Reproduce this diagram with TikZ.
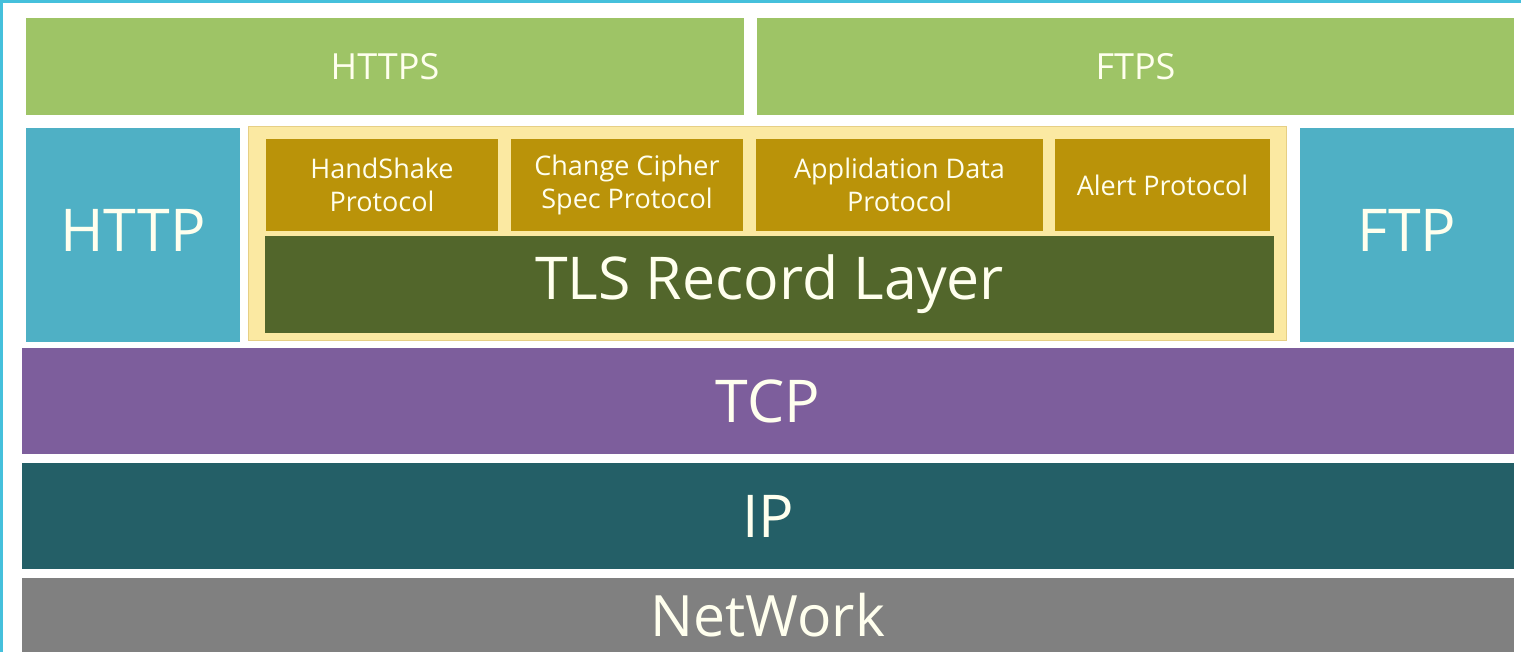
\documentclass[tikz,border=0pt]{standalone}
\usepackage{fontspec}
\setmainfont{Open Sans}
\definecolor{cgreen}{HTML}{9EC466}
\definecolor{ccyan}{HTML}{4FB0C5}
\definecolor{cpale}{HTML}{FBE9A2}
\definecolor{cpaleedge}{HTML}{E6CF85}
\definecolor{cgold}{HTML}{BA9309}
\definecolor{colive}{HTML}{52662B}
\definecolor{cpurple}{HTML}{7D5E9C}
\definecolor{cteal}{HTML}{245F67}
\definecolor{cgray}{HTML}{808080}
\definecolor{ctext}{HTML}{FFFFEE}
\definecolor{cframe}{HTML}{45C0DC}
\begin{document}
\begin{tikzpicture}[x=1pt,y=-1pt,
  blk/.style={inner sep=0pt,outer sep=0pt,draw=none,text=ctext,align=center},
  small/.style={blk,fill=cgold,font=\fontsize{27}{33}\selectfont},
  mid/.style={blk,font=\fontsize{36}{40}\selectfont},
  big/.style={blk,font=\fontsize{59}{64}\selectfont}]
\clip (0,0) rectangle (1521,652);
\fill[white] (0,0) rectangle (1521,652);
\draw[cframe,line width=3pt] (1.5,652) -- (1.5,1.5) -- (1521,1.5);
\node[mid,fill=cgreen,minimum width=718pt,minimum height=97pt] (https) at (385,66.5) {HTTPS};
\node[mid,fill=cgreen,minimum width=757pt,minimum height=97pt] (ftps) at (1135.5,66.5) {FTPS};
\node[big,fill=ccyan,minimum width=214pt,minimum height=214pt] (http) at (133,235) {};
\node[big,anchor=base] (httplabel) at (133,252) {HTTP};
\node[blk,fill=cpale,draw=cpaleedge,line width=1pt,minimum width=1038pt,minimum height=214pt] (tls) at (767,234) {};
\node[small,minimum width=232pt,minimum height=92pt] (hs) at (382,185) {HandShake\\Protocol};
\node[small,minimum width=232pt,minimum height=92pt] (ccs) at (627,185) {Change Cipher\\Spec Protocol};
\node[small,minimum width=287pt,minimum height=92pt] (app) at (899.5,185) {Applidation Data\\Protocol};
\node[small,minimum width=215pt,minimum height=92pt] (alert) at (1162.5,185) {Alert Protocol};
\node[big,fill=colive,minimum width=1009pt,minimum height=97pt] (rec) at (769.5,284.5) {TLS Record Layer};
\node[big,fill=ccyan,minimum width=214pt,minimum height=214pt] (ftp) at (1407,235) {};
\node[big,anchor=base] (ftplabel) at (1407,252) {FTP};
\node[big,fill=cpurple,minimum width=1492pt,minimum height=106pt] (tcp) at (768,401) {TCP};
\node[big,fill=cteal,minimum width=1492pt,minimum height=106pt] (ip) at (768,516) {IP};
\node[big,fill=cgray,minimum width=1492pt,minimum height=74pt] (net) at (768,615) {};
\node[inner sep=0pt,outer sep=0pt,text=ctext,font=\fontsize{57}{62}\selectfont,text depth=0pt,anchor=base] (netlabel) at (768,636) {NetWork};
\end{tikzpicture}
\end{document}
